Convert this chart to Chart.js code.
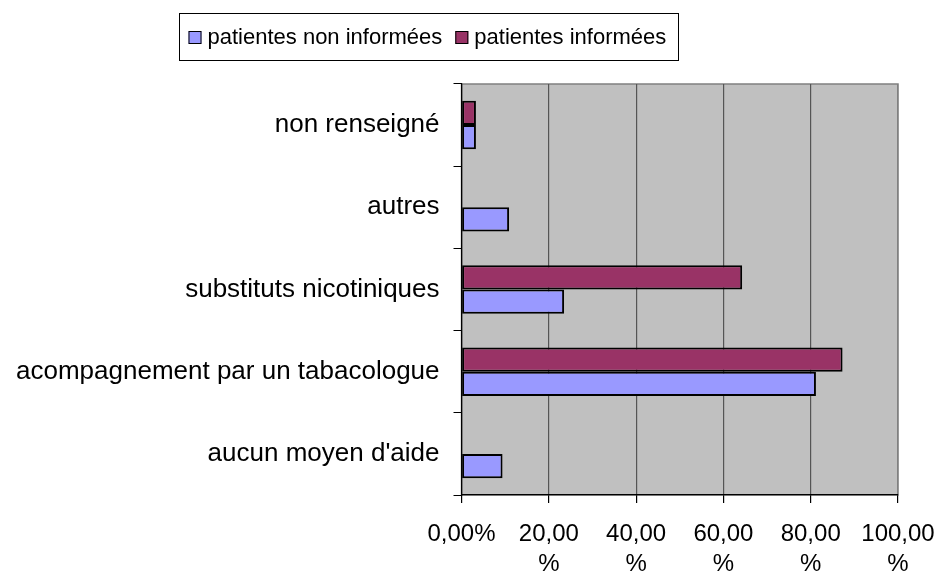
<!DOCTYPE html>
<html>
<head>
<meta charset="utf-8">
<script src="https://cdn.jsdelivr.net/npm/chart.js@4/dist/chart.umd.min.js"></script>
<style>
  html, body { margin: 0; padding: 0; background: #fff; }
  #wrap { width: 943px; height: 578px; }
</style>
</head>
<body>
<div id="wrap"><canvas id="chart"></canvas></div>
<script>
const categories = ['non renseigné', 'autres', 'substituts nicotiniques', 'acompagnement par un tabacologue', "aucun moyen d'aide"];
const seriesNames = ['patientes non informées', 'patientes informées'];
const nonInformees = [3.3, 10.9, 23.5, 81.2, 9.4];
const informees = [3.3, 0, 64.3, 87.3, 0];
const xTickLabels = ['0,00%', ['20,00', '%'], ['40,00', '%'], ['60,00', '%'], ['80,00', '%'], ['100,00', '%']];

const colNon = '#9999ff';
const colInf = '#993366';
const FONT = "'Liberation Sans', Arial, sans-serif";

// grey plot background + outline
const plotBg = {
  id: 'plotBg',
  beforeDraw(chart) {
    const { ctx, chartArea: a } = chart;
    ctx.save();
    ctx.fillStyle = '#c0c0c0';
    ctx.fillRect(a.left, a.top, a.right - a.left, a.bottom - a.top);
    ctx.strokeStyle = '#808080';
    ctx.lineWidth = 1.5;
    ctx.strokeRect(a.left, a.top, a.right - a.left, a.bottom - a.top);
    ctx.restore();
  }
};

// excel-like boxed legend
const boxLegend = {
  id: 'boxLegend',
  afterDraw(chart) {
    const ctx = chart.ctx;
    const left = 179.5, top = 13.5, w = 499, h = 47;
    ctx.save();
    ctx.strokeStyle = '#000';
    ctx.lineWidth = 1;
    ctx.strokeRect(left, top, w, h);
    ctx.font = '22px ' + FONT;
    ctx.textBaseline = 'alphabetic';
    const items = [[seriesNames[0], colNon], [seriesNames[1], colInf]];
    let x = left + 9;
    items.forEach(([txt, c]) => {
      ctx.fillStyle = c;
      ctx.fillRect(x, 31, 13, 13);
      ctx.strokeRect(x + 0.5, 31.5, 12, 12);
      ctx.fillStyle = '#000';
      ctx.fillText(txt, x + 19, 44);
      x += 19 + ctx.measureText(txt).width + 13;
    });
    ctx.restore();
  }
};

new Chart(document.getElementById('chart'), {
  type: 'bar',
  data: {
    labels: categories,
    datasets: [
      { label: seriesNames[1], data: informees, backgroundColor: colInf },
      { label: seriesNames[0], data: nonInformees, backgroundColor: colNon }
    ]
  },
  plugins: [plotBg, boxLegend],
  options: {
    indexAxis: 'y',
    responsive: true,
    maintainAspectRatio: false,
    animation: false,
    layout: { padding: { top: 84, left: 2, right: 0, bottom: 0 } },
    datasets: {
      bar: {
        categoryPercentage: 0.59,
        barPercentage: 1,
        borderColor: '#000',
        borderWidth: 2,
        borderSkipped: false
      }
    },
    plugins: {
      legend: { display: false },
      tooltip: { enabled: false }
    },
    scales: {
      x: {
        min: 0,
        max: 100,
        afterFit: (s) => { s.height = 83; s.paddingRight = 45; },
        ticks: {
          stepSize: 20,
          color: '#000',
          padding: 16,
          font: { family: FONT, size: 24, lineHeight: 1.25 },
          callback: (v, i) => xTickLabels[i]
        },
        grid: {
          color: (c) => (c.tick && c.tick.value === 100) ? '#808080' : '#555',
          lineWidth: 1.2,
          tickColor: '#000',
          tickLength: 8
        },
        border: { color: '#000', width: 1.2 }
      },
      y: {
        ticks: {
          color: '#000',
          padding: 14,
          font: { family: FONT, size: 26 }
        },
        grid: {
          drawOnChartArea: false,
          tickColor: '#000',
          tickLength: 8
        },
        border: { color: '#000', width: 1.2 }
      }
    }
  }
});
</script>
</body>
</html>
